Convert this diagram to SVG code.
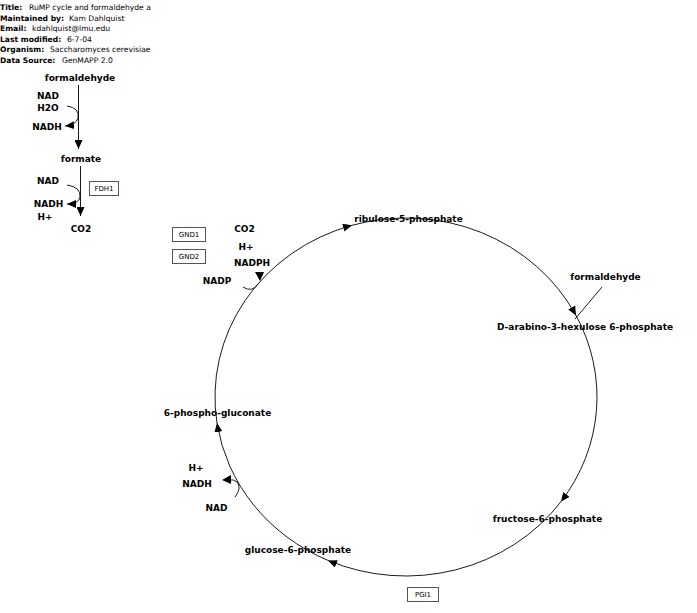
<svg xmlns="http://www.w3.org/2000/svg" width="697" height="613" viewBox="0 0 697 613">
<style>
.h{font-family:"DejaVu Sans",sans-serif;font-size:7.6px;fill:#000}
.hb{font-weight:bold}
.n{font-family:"DejaVu Sans",sans-serif;font-size:9px;font-weight:bold;fill:#000;text-anchor:middle}
.g{font-family:"DejaVu Sans",sans-serif;font-size:7px;fill:#000;text-anchor:middle}
.box{fill:#fff;stroke:#555;stroke-width:1}
.c{fill:none;stroke:#000;stroke-width:0.9}
.ah{fill:#000}
</style>
<defs>
<marker id="arr" markerUnits="userSpaceOnUse" markerWidth="10" markerHeight="8" refX="9" refY="4" orient="auto">
<path d="M0,0 L9,4 L0,8 z" fill="#000"/>
</marker>
</defs>
<rect width="697" height="613" fill="#fff"/>
<g id="header">
<text class="h" x="0" y="10"><tspan class="hb">Title:</tspan></text><text class="h" x="29" y="10">RuMP cycle and formaldehyde a</text>
<text class="h" x="0" y="20.5"><tspan class="hb">Maintained by:</tspan></text><text class="h" x="69" y="20.5">Kam Dahlquist</text>
<text class="h" x="0" y="31"><tspan class="hb">Email:</tspan></text><text class="h" x="32" y="31">kdahlquist@lmu.edu</text>
<text class="h" x="0" y="41.5"><tspan class="hb">Last modified:</tspan></text><text class="h" x="67" y="41.5">6-7-04</text>
<text class="h" x="0" y="52"><tspan class="hb">Organism:</tspan></text><text class="h" x="50" y="52">Saccharomyces cerevisiae</text>
<text class="h" x="0" y="62.5"><tspan class="hb">Data Source:</tspan></text><text class="h" x="62" y="62.5">GenMAPP 2.0</text>
</g>
<g id="connectors">
<line class="c" x1="78.5" y1="85" x2="78.5" y2="149" marker-end="url(#arr)"/>
<path class="c" d="M67,106 Q80,108 78,118 Q76,125 65,126" marker-end="url(#arr)"/>
<line class="c" x1="80.5" y1="166" x2="80.5" y2="216" marker-end="url(#arr)"/>
<path class="c" d="M67,185 Q81,187 80,197 Q79,204 67,204" marker-end="url(#arr)"/>
<path class="c" d="M217,423 A191,179 0 0 1 352,225.3" marker-end="url(#arr)"/>
<path class="c" d="M352,225.3 A191,179 0 0 1 576,315.4" marker-end="url(#arr)"/>
<path class="c" d="M576,315.4 A191,179 0 0 1 561,501.6" marker-end="url(#arr)"/>
<path class="c" d="M561,501.6 A191,179 0 0 1 328,560.4" marker-end="url(#arr)"/>
<path class="c" d="M328,560.4 A191,179 0 0 1 217,423" marker-end="url(#arr)"/>
<line class="c" x1="602" y1="287" x2="575" y2="319"/>
<path class="c" d="M243,287 Q252,293 258,284"/>
<path class="ah" d="M255,272 L264,272 L260,281 z"/>
<path class="c" d="M235,497 Q242,488 237,482 Q234,479 228,480"/>
<path class="ah" d="M222,480 L231,475 L231,484 z"/>
</g>
<g id="n-formaldehyde1"><text class="n" x="80" y="81">formaldehyde</text></g>
<g id="n-nad1"><text class="n" x="48" y="99">NAD</text></g>
<g id="n-h2o"><text class="n" x="48" y="111">H2O</text></g>
<g id="n-nadh1"><text class="n" x="47" y="130">NADH</text></g>
<g id="n-formate"><text class="n" x="81" y="162">formate</text></g>
<g id="n-nad2"><text class="n" x="48" y="184">NAD</text></g>
<g id="n-fdh1"><rect class="box" x="89.5" y="181.5" width="29" height="14"/><text class="g" x="104" y="191">FDH1</text></g>
<g id="n-nadh2"><text class="n" x="48.5" y="207">NADH</text></g>
<g id="n-h1"><text class="n" x="45" y="220">H+</text></g>
<g id="n-co2a"><text class="n" x="81" y="232">CO2</text></g>
<g id="n-gnd1"><rect class="box" x="172.5" y="227.5" width="33" height="14"/><text class="g" x="189" y="237">GND1</text></g>
<g id="n-gnd2"><rect class="box" x="172.5" y="249.5" width="33" height="14"/><text class="g" x="189" y="259">GND2</text></g>
<g id="n-co2b"><text class="n" x="244.5" y="232">CO2</text></g>
<g id="n-h2"><text class="n" x="246" y="250">H+</text></g>
<g id="n-nadph"><text class="n" x="252" y="266">NADPH</text></g>
<g id="n-nadp"><text class="n" x="217" y="284">NADP</text></g>
<g id="n-ribulose"><text class="n" x="408.5" y="222">ribulose-5-phosphate</text></g>
<g id="n-formaldehyde2"><text class="n" x="605.5" y="280">formaldehyde</text></g>
<g id="n-hexulose"><text class="n" x="585" y="330">D-arabino-3-hexulose 6-phosphate</text></g>
<g id="n-6pg"><text class="n" x="217.5" y="416">6-phospho-gluconate</text></g>
<g id="n-h3"><text class="n" x="196" y="471">H+</text></g>
<g id="n-nadh3"><text class="n" x="197" y="487">NADH</text></g>
<g id="n-nad3"><text class="n" x="216.5" y="511">NAD</text></g>
<g id="n-fructose"><text class="n" x="547.5" y="522">fructose-6-phosphate</text></g>
<g id="n-glucose"><text class="n" x="298" y="553">glucose-6-phosphate</text></g>
<g id="n-pgi1"><rect class="box" x="407.5" y="587.5" width="31" height="14"/><text class="g" x="423" y="597">PGI1</text></g>
</svg>
